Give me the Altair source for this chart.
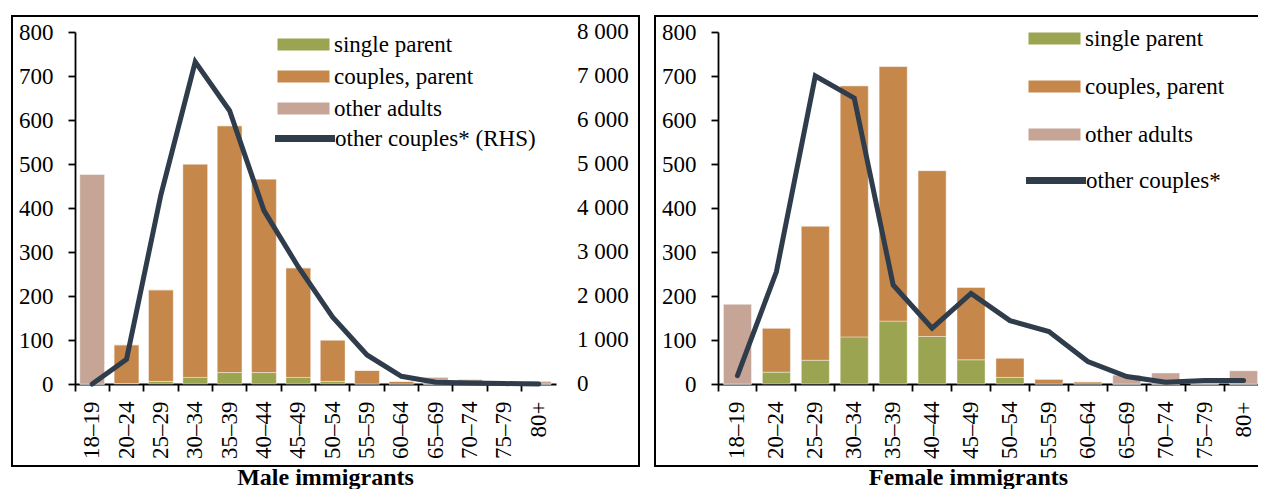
import altair as alt
import pandas as pd

FONT = "Liberation Serif"

ages = ["18–19", "20–24", "25–29", "30–34", "35–39", "40–44", "45–49",
        "50–54", "55–59", "60–64", "65–69", "70–74", "75–79", "80+"]
types = ["single parent", "couples, parent", "other adults"]
colors = ["#9BA450", "#C5874A", "#C6A597"]
line_color = "#2E3C4B"

# Male immigrants (bars: LHS, line: RHS in its own units)
male_single = [0, 1, 6, 15, 26, 26, 15, 6, 0, 0, 0, 0, 0, 0]
male_couples = [0, 88, 208, 485, 561, 440, 249, 94, 31, 6, 0, 0, 0, 0]
male_other = [476, 0, 0, 0, 0, 0, 0, 0, 0, 0, 15, 10, 2, 6]
male_other_couples = [0, 560, 4300, 7320, 6210, 3940, 2660, 1520, 660, 175, 40, 20, 10, 0]

# Female immigrants
female_single = [0, 27, 54, 107, 143, 108, 55, 15, 0, 0, 0, 0, 0, 0]
female_couples = [0, 100, 305, 571, 579, 377, 165, 44, 11, 5, 0, 0, 0, 0]
female_other = [181, 0, 0, 0, 0, 0, 0, 0, 0, 0, 20, 25, 3, 30]
female_other_couples = [19, 255, 700, 650, 225, 127, 206, 144, 119, 51, 17, 4, 8, 8]

left_ticks = list(range(0, 801, 100))
right_ticks = list(range(0, 8001, 1000))
RHS_FACTOR = 10  # right-hand scale is 10x the left-hand scale

RECT_PATH = "M0,-0.6H5.2V0.6H0Z"
LINE_PATH = "M-0.45,0H5.55"


def bars_df(single, couples, other):
    rows = []
    for i, a in enumerate(ages):
        for k, (t, v) in enumerate(zip(types, (single[i], couples[i], other[i]))):
            rows.append({"age": a, "type": t, "value": v, "ord": k})
    return pd.DataFrame(rows)


def yscale():
    return alt.Scale(domain=[0, 800], nice=False)


def left_axis():
    return alt.Axis(title=None, orient="left", values=left_ticks, tickSize=7,
                    labelPadding=15, labelFontSize=23, labelFont=FONT)


def panel(single, couples, other, oc, line_label, title, width, rhs,
          leg_x, leg_y, row_pad, line_leg_y, box_right):
    xenc = alt.X("age:N", sort=ages,
                 scale=alt.Scale(paddingInner=0, paddingOuter=0),
                 axis=alt.Axis(title=title, labelAngle=-90, bandPosition=0,
                               tickSize=7, labelPadding=10, labelFont=FONT,
                               labelFontSize=23, titleFont=FONT, titleFontSize=24,
                               titleFontWeight="bold", titleX=250, titleY=100,
                               titleAlign="center", titleBaseline="alphabetic",
                               titleColor="black"))
    bdf = bars_df(single, couples, other)
    bars = alt.Chart(bdf).mark_bar(width=alt.RelativeBandSize(0.72),
                                   stroke="white", strokeWidth=0.8, strokeOpacity=0.5).encode(
        x=xenc,
        y=alt.Y("value:Q", stack="zero", scale=yscale(), axis=left_axis()),
        color=alt.Color("type:N", scale=alt.Scale(domain=types, range=colors),
                        legend=alt.Legend(orient="none", legendX=leg_x, legendY=leg_y,
                                          title=None, symbolType=RECT_PATH, symbolSize=400,
                                          symbolStrokeWidth=0, labelFont=FONT,
                                          labelFontSize=23, labelColor="black",
                                          labelOffset=45, rowPadding=row_pad,
                                          padding=0, labelLimit=0)),
        order=alt.Order("ord:Q", sort="ascending"),
    )
    factor = RHS_FACTOR if rhs else 1
    ldf = pd.DataFrame({"age": ages, "oc": oc, "series": [line_label] * len(ages)})
    line = alt.Chart(ldf).transform_calculate(
        ocl=f"datum.oc / {factor}"
    ).mark_line(strokeWidth=5, strokeCap="round", strokeJoin="miter").encode(
        x=alt.X("age:N", sort=ages),
        y=alt.Y("ocl:Q", scale=yscale(), axis=left_axis()),
        stroke=alt.Stroke("series:N",
                          scale=alt.Scale(domain=[line_label], range=[line_color]),
                          legend=alt.Legend(orient="none", legendX=leg_x,
                                            legendY=line_leg_y, title=None,
                                            symbolType=LINE_PATH, symbolSize=400,
                                            symbolStrokeWidth=7, labelFont=FONT,
                                            labelFontSize=23, labelColor="black",
                                            labelOffset=42, padding=0, labelLimit=0)),
    )
    box = alt.Chart(pd.DataFrame({"k": [0]})).mark_rect(
        fillOpacity=0, stroke="black", strokeWidth=2).encode(
        x=alt.value(-63), x2=alt.value(box_right),
        y=alt.value(-16), y2=alt.value(434))
    layers = [bars, line, box]
    if rhs:
        # right-hand axis labels, placed through the shared y scale
        rdf = pd.DataFrame({"t": right_ticks})
        rhs_labels = alt.Chart(rdf).transform_calculate(
            tl=f"datum.t / {RHS_FACTOR}",
            lab="replace(format(datum.t, ','), ',', ' ')"
        ).mark_text(align="left", baseline="middle", font=FONT, fontSize=23,
                    color="black").encode(
            x=alt.value(width + 21),
            y=alt.Y("tl:Q", scale=yscale(), axis=left_axis()),
            text="lab:N")
        layers.append(rhs_labels)
    return alt.layer(*layers).properties(width=width, height=352)


left = panel(male_single, male_couples, male_other, male_other_couples,
             "other couples* (RHS)", "Male immigrants", 481, True,
             191, 1, 8, 93, 564)
right = panel(female_single, female_couples, female_other, female_other_couples,
              "other couples*", "Female immigrants", 545, False,
              299, -5, 24, 135, 575)

chart = alt.hconcat(left, right, spacing=14).resolve_scale(
    x="independent", y="independent", color="independent", stroke="independent"
).resolve_legend(color="independent", stroke="independent").properties(
    padding={"left": 3, "top": 7, "right": -36, "bottom": 0}
).configure(font=FONT).configure_view(stroke=None).configure_axis(
    labelFont=FONT, labelColor="black", domainColor="black", tickColor="black",
    domainWidth=1.8, tickWidth=1.8, grid=False, tickSize=7, labelFontSize=23
).configure_legend(labelFont=FONT)

chart.save("out.html", embed_options={"renderer": "svg", "actions": False})
